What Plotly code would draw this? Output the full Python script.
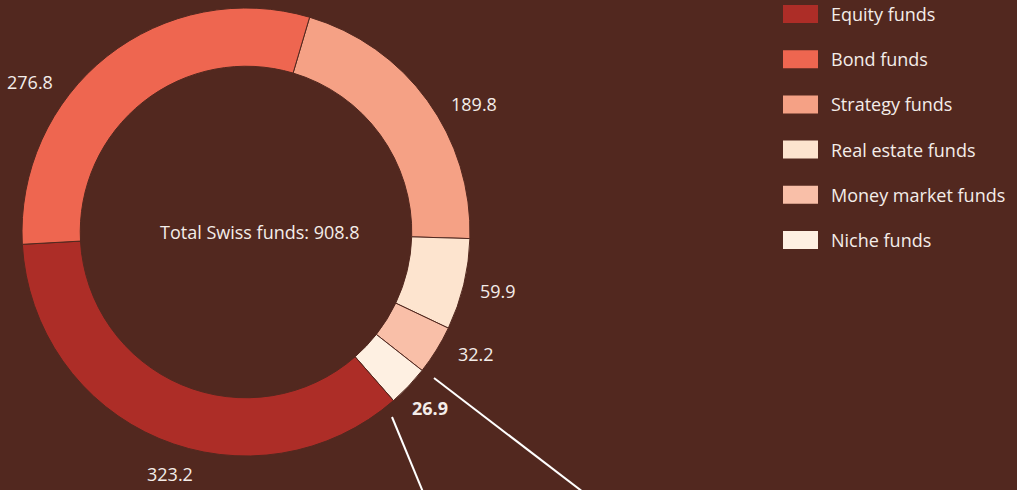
import plotly.graph_objects as go

# Swiss fund volumes (CHF bn), in slice order clockwise from the top
categories = ["Strategy funds", "Real estate funds", "Money market funds",
              "Niche funds", "Equity funds", "Bond funds"]
values = [189.8, 59.9, 32.2, 26.9, 323.2, 276.8]
total_label = "Total Swiss funds: 908.8"

legend_order = ["Equity funds", "Bond funds", "Strategy funds",
                "Real estate funds", "Money market funds", "Niche funds"]

COLORS = {
    "Equity funds": "#ad2d27",
    "Bond funds": "#ee6650",
    "Strategy funds": "#f5a185",
    "Real estate funds": "#fde4cf",
    "Money market funds": "#f9bfa8",
    "Niche funds": "#fef0e2",
}
BG = "#52281f"
TXT = "#f4ede9"
FONT = "Open Sans, sans-serif"
FS = 18

W, H = 1017, 490

# label pixel positions (value labels sit freely around the ring)
label_pos = {
    "Strategy funds": (474, 104),
    "Real estate funds": (498, 291),
    "Money market funds": (476, 354),
    "Niche funds": (430, 408),
    "Equity funds": (170, 474),
    "Bond funds": (30, 82),
}

fig = go.Figure(
    go.Pie(
        labels=categories, values=values, sort=False,
        direction="clockwise", rotation=16.5, hole=0.74,
        marker=dict(colors=[COLORS[c] for c in categories], line=dict(color=BG, width=1)),
        textinfo="none", hoverinfo="label+value",
        domain=dict(x=[22 / W, 470 / W], y=[34 / H, 482 / H]),
        showlegend=False,
    )
)


def px(x, y):
    return x / W, 1 - y / H


annotations = []
for cat, val in zip(categories, values):
    x, y = px(*label_pos[cat])
    txt = f"<b>{val}</b>" if cat == "Niche funds" else f"{val}"
    annotations.append(dict(x=x, y=y, xref="paper", yref="paper", text=txt,
                            xanchor="center", yanchor="middle", showarrow=False,
                            font=dict(size=FS, color=TXT, family=FONT)))

cx, cy = px(260, 232)
annotations.append(dict(x=cx, y=cy, xref="paper", yref="paper", text=total_label,
                        xanchor="center", yanchor="middle", showarrow=False,
                        font=dict(size=FS, color=TXT, family=FONT)))

shapes = []
for i, cat in enumerate(legend_order):
    yc = 14 + i * 45.2
    x0, y0 = px(783, yc - 9)
    x1, y1 = px(818, yc + 9)
    shapes.append(dict(type="rect", xref="paper", yref="paper", x0=x0, x1=x1, y0=y1, y1=y0,
                       fillcolor=COLORS[cat], line=dict(width=0)))
    tx, ty = px(829, yc)
    annotations.append(dict(x=tx, y=ty, xref="paper", yref="paper", text=cat,
                            xanchor="left", yanchor="middle", showarrow=False,
                            font=dict(size=FS, color=TXT, family=FONT)))

# leader lines running off towards the detail chart below
for (xa, ya), (xb, yb) in [((392, 417), (423, 492)), ((434, 378), (583, 492))]:
    a, b = px(xa, ya)
    c, d = px(xb, yb)
    shapes.append(dict(type="line", xref="paper", yref="paper", x0=a, y0=b, x1=c, y1=d,
                       line=dict(color="white", width=2)))

fig.update_layout(
    width=W, height=H,
    margin=dict(l=0, r=0, t=0, b=0),
    paper_bgcolor=BG, plot_bgcolor=BG,
    annotations=annotations, shapes=shapes,
    font=dict(family=FONT, color=TXT),
)

fig.write_html("out.html", config={"displayModeBar": False},
               post_script="document.body.style.margin='0';")
